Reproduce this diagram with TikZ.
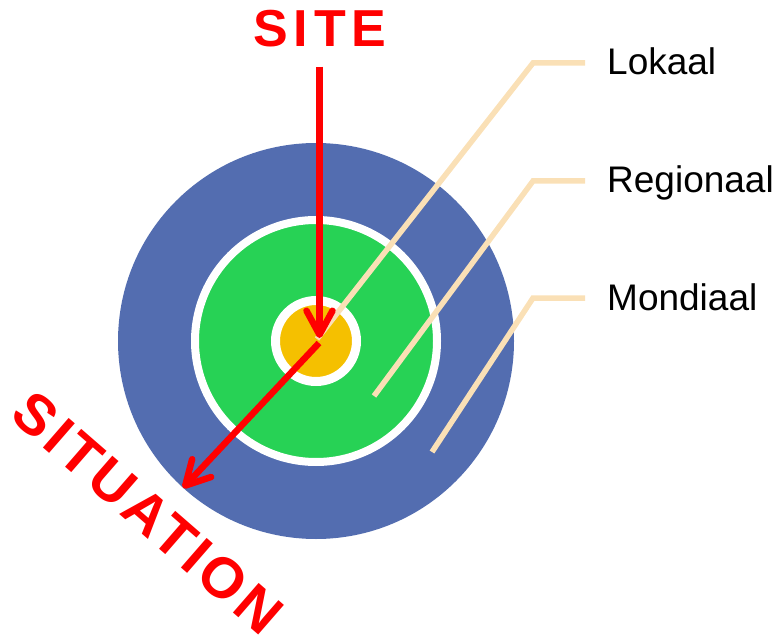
\documentclass[tikz,border=0pt]{standalone}
\usepackage{fontspec}
\setmainfont{Liberation Sans}
\newfontfamily\signfont[LetterSpace=11]{Liberation Sans}
\newfontfamily\widesignfont[LetterSpace=7]{Liberation Sans}
\usetikzlibrary{arrows.meta}
\definecolor{mondiaalblue}{RGB}{83,109,176}
\definecolor{regionaalgreen}{RGB}{39,210,85}
\definecolor{lokaalyellow}{RGB}{245,192,0}
\definecolor{leaderbeige}{RGB}{250,224,182}
\begin{document}
\begin{tikzpicture}[x=1pt,y=-1pt,
  ring/.style={circle,draw=white,inner sep=0pt},
  leader/.style={draw=leaderbeige,line width=5.5pt},
  pointer/.style={draw=red,line width=6.5pt,-{Straight Barb[length=24pt,width=26pt,round]}},
  scalename/.style={anchor=base west,inner sep=0pt,font=\fontsize{37}{37}\selectfont},
  sign/.style={text=red,inner sep=0pt,font=\signfont\bfseries\fontsize{52}{52}\selectfont}]
\useasboundingbox (0,0) rectangle (779,639);
% rings
\node[circle,fill=mondiaalblue,inner sep=0pt,minimum size=396pt] (mondiaal ring) at (316,341) {};
\node[ring,line width=8pt,fill=regionaalgreen,minimum size=242pt] (regionaal ring) at (316,341) {};
\node[ring,line width=9pt,fill=lokaalyellow,minimum size=81pt] (lokaal ring) at (316,341) {};
% leaders and scale names
\foreach \scale/\tx/\ty/\ey/\by in {Lokaal/317/339/63/75, Regionaal/374/396/181/193, Mondiaal/432/452/298/310}{
  \coordinate (\scale-tip) at (\tx,\ty);
  \coordinate (\scale-elbow) at (533,\ey);
  \node[scalename] (\scale) at (607,\by) {\scale};
  \draw[leader] (\scale-tip) -- (\scale-elbow) -- ++(52,0);
}
% site and situation
\node[sign,anchor=base] (site) at (320,47) {SITE};
\node[sign,font=\widesignfont\bfseries\fontsize{57}{57}\selectfont,rotate=-41] (situation) at (148,513) {SITUATION};
\coordinate (core) at (319.5,338);
\coordinate (surroundings) at (183,488);
\draw[pointer,shorten <=19pt] (site.south -| core) -- (core);
\draw[pointer] (319,343) -- (surroundings);
\end{tikzpicture}
\end{document}
